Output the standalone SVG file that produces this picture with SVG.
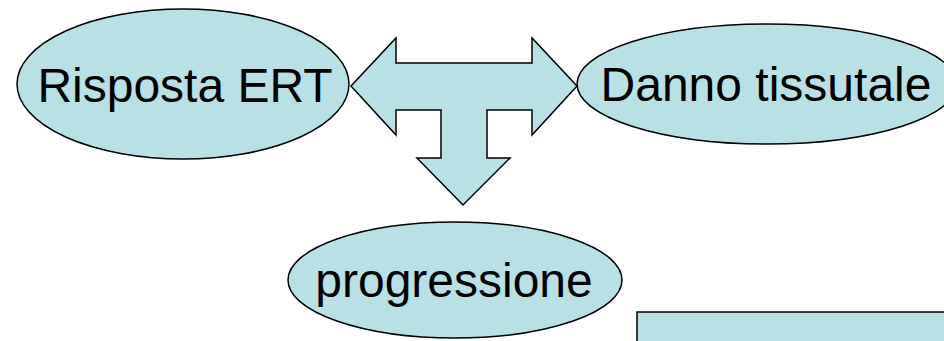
<svg xmlns="http://www.w3.org/2000/svg" width="944" height="341" viewBox="0 0 944 341">
<style>
.shape{fill:#B9E0E4;stroke:#000;stroke-width:1.5}
.lbl{font-family:"Liberation Sans",Arial,sans-serif;font-size:48px;fill:#000;text-anchor:middle}
</style>
<rect width="944" height="341" fill="#fff"/>
<g id="connectors">
<path class="shape" d="M351,86 L396,38 L396,63 L532,63 L532,38 L577,86 L532,135 L532,110 L487,110 L487,158 L510,158 L463,205 L417,158 L441,158 L441,110 L396,110 L396,135 Z"/>
</g>
<g id="risposta">
<ellipse class="shape" cx="183" cy="84" rx="166" ry="75"/>
<text class="lbl" x="185" y="102">Risposta ERT</text>
</g>
<g id="danno">
<ellipse class="shape" cx="767" cy="84" rx="190" ry="60"/>
<text class="lbl" x="766" y="101">Danno tissutale</text>
</g>
<g id="progressione">
<ellipse class="shape" cx="455" cy="280" rx="167" ry="58"/>
<text class="lbl" x="454" y="297">progressione</text>
</g>
<g id="box">
<rect class="shape" x="637" y="312" width="320" height="40"/>
</g>
</svg>
